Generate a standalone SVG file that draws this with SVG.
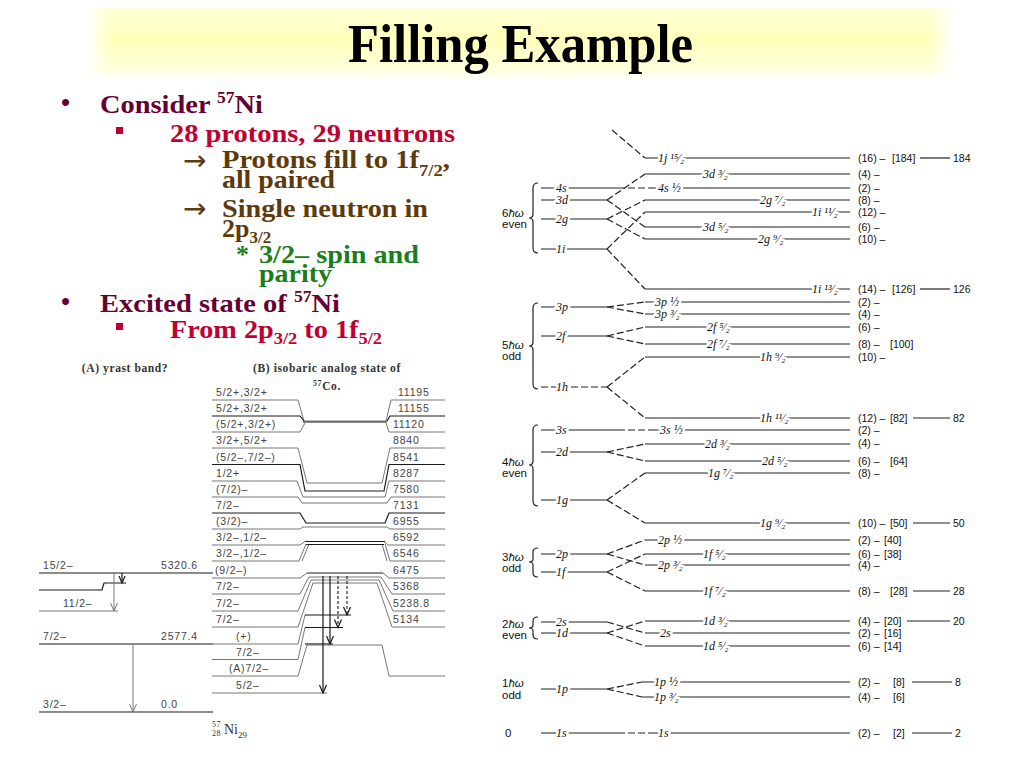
<svg xmlns="http://www.w3.org/2000/svg" width="1024" height="768" viewBox="0 0 1024 768">
<defs>
<linearGradient id="bandV" x1="0" y1="0" x2="0" y2="1">
<stop offset="0" stop-color="#FFFFD6"/><stop offset="0.45" stop-color="#FFFFBC"/><stop offset="0.85" stop-color="#FFFFDC"/><stop offset="1" stop-color="#FFFFFF"/>
</linearGradient>
<linearGradient id="bandH" x1="0" y1="0" x2="1" y2="0">
<stop offset="0" stop-color="#000"/><stop offset="0.03" stop-color="#fff"/><stop offset="0.97" stop-color="#fff"/><stop offset="1" stop-color="#000"/>
</linearGradient>
<mask id="bandMask"><rect x="85" y="8" width="870" height="72" fill="url(#bandH)"/></mask>
<style>
.title{font-family:"Liberation Serif",serif;font-weight:bold;font-size:54px;fill:#000}
.bt{font-family:"Liberation Serif",serif;font-weight:bold;font-size:26px}
.ar{font-family:"DejaVu Sans",sans-serif;font-size:28px}
.c1{fill:#660033}.c2{fill:#C00030}.c3{fill:#5C3A0B}.c4{fill:#1B7D1B}
.hd{font-family:"Liberation Serif",serif;font-weight:bold;font-size:11.5px;fill:#333;letter-spacing:0.6px}
.lb{font-family:"Liberation Sans",sans-serif;font-size:10.5px;fill:#444;letter-spacing:0.8px}
.g{stroke:#777;stroke-width:1;fill:none}
.k{stroke:#1a1a1a;stroke-width:1.2;fill:none}
.kd{stroke:#1a1a1a;stroke-width:1.1;fill:none;stroke-dasharray:3 2}
.ln{stroke:#222;stroke-width:1.2;fill:none}
.dl{stroke:#222;stroke-width:1.2;fill:none;stroke-dasharray:7 3}
.sl{font-family:"Liberation Serif",serif;font-style:italic;font-size:12px;fill:#111}
.halo{paint-order:stroke;stroke:#fff;stroke-width:5px;stroke-linejoin:round}
.sn{font-family:"Liberation Sans",sans-serif;font-size:10.5px;fill:#111}
.hw{font-family:"Liberation Sans",sans-serif;font-size:11.5px;fill:#111}
</style>
</defs>
<rect width="1024" height="768" fill="#fff"/>

<g id="title">
<rect x="85" y="8" width="870" height="72" fill="url(#bandV)" mask="url(#bandMask)"/>
<text class="title" x="348" y="62" textLength="345" lengthAdjust="spacingAndGlyphs">Filling Example</text>
</g>

<g id="bullets">
<text class="bt c1" x="61" y="111" font-size="20">•</text>
<text class="bt c1" x="100" y="113" textLength="163" lengthAdjust="spacingAndGlyphs">Consider <tspan font-size="16" dy="-10">57</tspan><tspan dy="10">Ni</tspan></text>
<rect x="116" y="127" width="7" height="7" fill="#C00030"/>
<text class="bt c2" x="170" y="142" textLength="285" lengthAdjust="spacingAndGlyphs">28 protons, 29 neutrons</text>
<text class="ar c3" x="183" y="170">→</text>
<text class="bt c3" x="222" y="168" textLength="228" lengthAdjust="spacingAndGlyphs">Protons fill to 1f<tspan font-size="17" dy="8">7/2</tspan><tspan dy="-8">,</tspan></text>
<text class="bt c3" x="222" y="188" textLength="113" lengthAdjust="spacingAndGlyphs">all paired</text>
<text class="ar c3" x="183" y="218">→</text>
<text class="bt c3" x="222" y="217" textLength="206" lengthAdjust="spacingAndGlyphs">Single neutron in</text>
<text class="bt c3" x="222" y="237">2p<tspan font-size="17" dy="6">3/2</tspan></text>
<text class="bt c4" x="236" y="263">*</text>
<text class="bt c4" x="259" y="263" textLength="160" lengthAdjust="spacingAndGlyphs">3/2– spin and</text>
<text class="bt c4" x="259" y="282" textLength="73" lengthAdjust="spacingAndGlyphs">parity</text>
<text class="bt c1" x="61" y="310" font-size="20">•</text>
<text class="bt c1" x="100" y="312" textLength="240" lengthAdjust="spacingAndGlyphs">Excited state of <tspan font-size="16" dy="-10">57</tspan><tspan dy="10">Ni</tspan></text>
<rect x="116" y="323" width="7" height="7" fill="#C00030"/>
<text class="bt c2" x="170" y="338" textLength="212" lengthAdjust="spacingAndGlyphs">From 2p<tspan font-size="17" dy="6">3/2</tspan><tspan dy="-6"> to 1f</tspan><tspan font-size="17" dy="6">5/2</tspan></text>
</g>

<g id="yrast">
<text class="hd" x="125" y="372" text-anchor="middle">(A) yrast band?</text>
<line class="k" x1="39" y1="573" x2="213" y2="573"/>
<polyline class="k" points="39,590 102,590 104,583 126,583"/>
<line class="g" x1="39" y1="611" x2="118" y2="611"/>
<line class="k" x1="39" y1="644" x2="213" y2="644"/>
<line class="k" x1="39" y1="712" x2="213" y2="712" stroke-width="2"/>
<text class="lb" x="43" y="569">15/2–</text>
<text class="lb" x="161" y="569">5320.6</text>
<text class="lb" x="63" y="607">11/2–</text>
<text class="lb" x="43" y="640">7/2–</text>
<text class="lb" x="161" y="640">2577.4</text>
<text class="lb" x="43" y="708">3/2–</text>
<text class="lb" x="161" y="708">0.0</text>
<line class="g" x1="114" y1="573" x2="114" y2="611"/><path class="g" d="M110.5,603 L114,611 L117.5,603"/>
<line class="k" x1="122" y1="573" x2="122" y2="583" stroke-width="1"/><path class="k" stroke-width="1" d="M119,576 L122,583 L125,576"/>
<line class="g" x1="133" y1="644" x2="133" y2="712"/><path class="g" d="M129.5,704 L133,712 L136.5,704"/>
</g>

<g id="analog">
<text class="hd" x="327" y="372" text-anchor="middle">(B) isobaric analog state of</text>
<text class="hd" x="313" y="390"><tspan font-size="8" dy="-4">57</tspan><tspan dy="4">Co.</tspan></text>
<polyline class="g" points="212,400 298,400 304,421 386,421 391,400 445,400"/>
<polyline class="k" points="212,416 300,416 304,421"/><polyline class="k" points="387,421 390,416 445,416"/>
<polyline class="g" points="212,432 300,432 305,423"/><polyline class="g" points="386,423 389,432 445,432"/>
<line class="k" x1="303" y1="422" x2="387" y2="422" stroke-width="2.6"/>
<polyline class="g" points="212,448 298,448 307,483 382,483 390,448 445,448"/>
<polyline class="k" points="212,464.5 300,464.5 305,491 384,491 389,464.5 445,464.5"/>
<polyline class="g" points="212,481 297,481 303,497 385,497 389,481 445,481"/>
<polyline class="g" points="212,497 298,497 302,503 387,503 391,497 445,497"/>
<polyline class="k" points="212,513 300,513 306,523 385,523 389,513 445,513"/>
<polyline class="g" points="212,529 300,529 303,527 387,527 390,529 445,529"/>
<polyline class="g" points="212,545 300,545 305,541.5"/><polyline class="g" points="384,541.5 388,545 445,545"/>
<polyline class="g" points="212,561 299,561 306,544"/><polyline class="g" points="302,561 309,544"/>
<polyline class="g" points="385,544 390,561 445,561"/><polyline class="g" points="382,544 387,561"/>
<line class="k" x1="305" y1="541.5" x2="385" y2="541.5" stroke-width="1.6"/>
<line class="k" x1="306" y1="544.5" x2="384" y2="544.5" stroke-width="1.6"/>
<polyline class="g" points="212,578 300,578 307,573"/><polyline class="g" points="383,573 389,578 445,578"/>
<line class="k" x1="307" y1="573" x2="383" y2="573" stroke-width="1.4"/>
<polyline class="g" points="212,594 300,594 309,577 381,577 392,594 445,594"/>
<polyline class="g" points="212,611 298,611 311,580 379,580 393,611 445,611"/>
<polyline class="g" points="212,627 298,627 313,583 377,583 392,627 445,627"/>
<polyline class="g" points="213,644 298,644 305,615"/>
<line class="k" x1="305" y1="615" x2="351" y2="615"/>
<line class="k" x1="305" y1="644" x2="333" y2="644"/>
<polyline class="g" points="212,659.5 298,659.5 305,627.5"/>
<line class="k" x1="305" y1="627.5" x2="343" y2="627.5"/>
<polyline class="g" points="212,676 298,676 307,645 382,645 389,676 445,676"/>
<line class="g" x1="212" y1="693" x2="327" y2="693"/>
<line class="k" x1="323" y1="576" x2="323" y2="693" stroke-width="1"/><path class="k" stroke-width="1" d="M319.5,685 L323,693 L326.5,685"/>
<line class="k" x1="330" y1="576" x2="330" y2="644" stroke-width="1"/><path class="k" stroke-width="1" d="M326.5,636 L330,644 L333.5,636"/>
<line class="kd" x1="338" y1="576" x2="338" y2="627.5"/><path class="k" stroke-width="1" d="M334.5,619.5 L338,627.5 L341.5,619.5"/>
<line class="kd" x1="347" y1="576" x2="347" y2="615"/><path class="k" stroke-width="1" d="M343.5,607 L347,615 L350.5,607"/>
<text class="lb" x="216" y="396">5/2+,3/2+</text>
<text class="lb" x="216" y="412">5/2+,3/2+</text>
<text class="lb" x="216" y="428">(5/2+,3/2+)</text>
<text class="lb" x="216" y="444">3/2+,5/2+</text>
<text class="lb" x="216" y="460.5">(5/2–,7/2–)</text>
<text class="lb" x="216" y="477">1/2+</text>
<text class="lb" x="216" y="493">(7/2)–</text>
<text class="lb" x="216" y="509">7/2–</text>
<text class="lb" x="216" y="525">(3/2)–</text>
<text class="lb" x="216" y="541">3/2–,1/2–</text>
<text class="lb" x="216" y="557">3/2–,1/2–</text>
<text class="lb" x="215" y="574">(9/2–)</text>
<text class="lb" x="216" y="590">7/2–</text>
<text class="lb" x="216" y="607">7/2–</text>
<text class="lb" x="216" y="623">7/2–</text>
<text class="lb" x="236" y="640">(+)</text>
<text class="lb" x="236" y="655.5">7/2–</text>
<text class="lb" x="229" y="672">(A)7/2–</text>
<text class="lb" x="236" y="689">5/2–</text>
<text class="lb" x="398" y="396">11195</text>
<text class="lb" x="398" y="412">11155</text>
<text class="lb" x="393" y="428">11120</text>
<text class="lb" x="393" y="444">8840</text>
<text class="lb" x="393" y="460.5">8541</text>
<text class="lb" x="393" y="477">8287</text>
<text class="lb" x="393" y="493">7580</text>
<text class="lb" x="393" y="509">7131</text>
<text class="lb" x="393" y="525">6955</text>
<text class="lb" x="393" y="541">6592</text>
<text class="lb" x="393" y="557">6546</text>
<text class="lb" x="393" y="574">6475</text>
<text class="lb" x="393" y="590">5368</text>
<text class="lb" x="393" y="607">5238.8</text>
<text class="lb" x="393" y="623">5134</text>
<text font-family="Liberation Serif, serif" fill="#333" font-size="8" x="212" y="727" letter-spacing="0.5">57</text>
<text font-family="Liberation Serif, serif" fill="#333" font-size="8" x="212" y="736" letter-spacing="0.5">28</text>
<text font-family="Liberation Serif, serif" fill="#333" font-size="14" x="224" y="734">Ni<tspan font-size="9" dy="4">29</tspan></text>
</g>

<g id="shell">
<g id="braces">
<path class="ln" d="M538,183 Q533,183 533,188 L533,214 Q533,218 529,218 Q533,218 533,222 L533,248 Q533,253 538,253"/>
<path class="ln" d="M538,303 Q533,303 533,308 L533,342 Q533,346 529,346 Q533,346 533,350 L533,384 Q533,389 538,389"/>
<path class="ln" d="M538,425 Q533,425 533,430 L533,461 Q533,465 529,465 Q533,465 533,469 L533,501 Q533,506 538,506"/>
<path class="ln" d="M538,548 Q533,548 533,552 L533,559 Q533,562 529,562 Q533,562 533,565 L533,573 Q533,577 538,577"/>
<path class="ln" d="M538,617 Q533,617 533,621 L533,625 Q533,628 529,628 Q533,628 533,631 L533,635 Q533,639 538,639"/>
</g>
<g id="osc-labels">
<text class="hw" x="502" y="217">6<tspan font-style="italic">ħω</tspan></text><text class="hw" x="502" y="228">even</text>
<text class="hw" x="502" y="349">5<tspan font-style="italic">ħω</tspan></text><text class="hw" x="502" y="360">odd</text>
<text class="hw" x="502" y="466">4<tspan font-style="italic">ħω</tspan></text><text class="hw" x="502" y="477">even</text>
<text class="hw" x="502" y="561">3<tspan font-style="italic">ħω</tspan></text><text class="hw" x="502" y="572">odd</text>
<text class="hw" x="502" y="628">2<tspan font-style="italic">ħω</tspan></text><text class="hw" x="502" y="639">even</text>
<text class="hw" x="502" y="687">1<tspan font-style="italic">ħω</tspan></text><text class="hw" x="502" y="699">odd</text>
<text class="hw" x="505" y="737">0</text>
</g>
<g id="connectors">
<line class="dl" x1="612" y1="130" x2="645" y2="158"/>
<line class="ln" x1="645" y1="158" x2="850" y2="158"/>
<line class="ln" x1="541" y1="188" x2="618" y2="188"/><line class="dl" x1="618" y1="188" x2="652" y2="188"/><line class="ln" x1="652" y1="188" x2="850" y2="188"/>
<line class="ln" x1="541" y1="200" x2="607" y2="200"/>
<line class="dl" x1="607" y1="200" x2="645" y2="174"/><line class="ln" x1="645" y1="174" x2="850" y2="174"/>
<line class="dl" x1="607" y1="200" x2="645" y2="227"/><line class="ln" x1="645" y1="227" x2="850" y2="227"/>
<line class="ln" x1="541" y1="219" x2="607" y2="219"/>
<line class="dl" x1="607" y1="219" x2="645" y2="200"/><line class="ln" x1="645" y1="200" x2="850" y2="200"/>
<line class="dl" x1="607" y1="219" x2="645" y2="239"/><line class="ln" x1="645" y1="239" x2="850" y2="239"/>
<line class="ln" x1="541" y1="249" x2="607" y2="249"/>
<line class="dl" x1="607" y1="249" x2="645" y2="212"/><line class="ln" x1="645" y1="212" x2="850" y2="212"/>
<line class="dl" x1="607" y1="249" x2="645" y2="289"/><line class="ln" x1="645" y1="289" x2="850" y2="289"/>

<line class="ln" x1="541" y1="307" x2="607" y2="307"/>
<line class="dl" x1="607" y1="307" x2="645" y2="302"/><line class="ln" x1="645" y1="302" x2="850" y2="302"/>
<line class="dl" x1="607" y1="307" x2="645" y2="314"/><line class="ln" x1="645" y1="314" x2="850" y2="314"/>
<line class="ln" x1="541" y1="336" x2="607" y2="336"/>
<line class="dl" x1="607" y1="336" x2="645" y2="327"/><line class="ln" x1="645" y1="327" x2="850" y2="327"/>
<line class="dl" x1="607" y1="336" x2="645" y2="344"/><line class="ln" x1="645" y1="344" x2="850" y2="344"/>
<line class="dl" x1="541" y1="387" x2="607" y2="387"/>
<line class="dl" x1="607" y1="387" x2="645" y2="357"/><line class="ln" x1="645" y1="357" x2="850" y2="357"/>
<line class="dl" x1="607" y1="387" x2="645" y2="418"/><line class="ln" x1="645" y1="418" x2="850" y2="418"/>

<line class="ln" x1="541" y1="430" x2="618" y2="430"/><line class="dl" x1="618" y1="430" x2="652" y2="430"/><line class="ln" x1="652" y1="430" x2="850" y2="430"/>
<line class="ln" x1="541" y1="452" x2="607" y2="452"/>
<line class="dl" x1="607" y1="452" x2="645" y2="444"/><line class="ln" x1="645" y1="444" x2="850" y2="444"/>
<line class="dl" x1="607" y1="452" x2="645" y2="461"/><line class="ln" x1="645" y1="461" x2="850" y2="461"/>
<line class="ln" x1="541" y1="500" x2="607" y2="500"/>
<line class="dl" x1="607" y1="500" x2="645" y2="473"/><line class="ln" x1="645" y1="473" x2="850" y2="473"/>
<line class="dl" x1="607" y1="500" x2="645" y2="523"/><line class="ln" x1="645" y1="523" x2="850" y2="523"/>

<line class="ln" x1="541" y1="554" x2="607" y2="554"/>
<line class="dl" x1="607" y1="554" x2="645" y2="540"/><line class="ln" x1="645" y1="540" x2="850" y2="540"/>
<line class="dl" x1="607" y1="554" x2="645" y2="565"/><line class="ln" x1="645" y1="565" x2="850" y2="565"/>
<line class="ln" x1="541" y1="572" x2="607" y2="572"/>
<line class="dl" x1="607" y1="572" x2="645" y2="554"/><line class="ln" x1="645" y1="554" x2="850" y2="554"/>
<line class="dl" x1="607" y1="572" x2="645" y2="591"/><line class="ln" x1="645" y1="591" x2="850" y2="591"/>

<line class="ln" x1="541" y1="622" x2="607" y2="622"/>
<line class="dl" x1="607" y1="622" x2="645" y2="633"/><line class="ln" x1="645" y1="633" x2="850" y2="633"/>
<line class="ln" x1="541" y1="633" x2="607" y2="633"/>
<line class="dl" x1="607" y1="633" x2="645" y2="621"/><line class="ln" x1="645" y1="621" x2="850" y2="621"/>
<line class="dl" x1="607" y1="633" x2="645" y2="646"/><line class="ln" x1="645" y1="646" x2="850" y2="646"/>

<line class="ln" x1="541" y1="689" x2="607" y2="689"/>
<line class="dl" x1="607" y1="689" x2="642" y2="682"/><line class="ln" x1="642" y1="682" x2="850" y2="682"/>
<line class="dl" x1="607" y1="689" x2="642" y2="697"/><line class="ln" x1="642" y1="697" x2="850" y2="697"/>

<line class="ln" x1="541" y1="733" x2="618" y2="733"/><line class="dl" x1="618" y1="733" x2="652" y2="733"/><line class="ln" x1="652" y1="733" x2="850" y2="733"/>

<line class="ln" x1="920" y1="158" x2="950" y2="158"/>
<line class="ln" x1="920" y1="289" x2="950" y2="289"/>
<line class="ln" x1="913" y1="418" x2="950" y2="418"/>
<line class="ln" x1="913" y1="523" x2="950" y2="523"/>
<line class="ln" x1="913" y1="591" x2="950" y2="591"/>
<line class="ln" x1="907" y1="621" x2="950" y2="621"/>
<line class="ln" x1="912" y1="682" x2="952" y2="682"/>
<line class="ln" x1="912" y1="733" x2="952" y2="733"/>
</g>
<g id="level-labels">
<text class="sl halo" x="556" y="192">4s</text>
<text class="sl halo" x="556" y="204">3d</text>
<text class="sl halo" x="556" y="223">2g</text>
<text class="sl halo" x="556" y="253">1i</text>
<text class="sl halo" x="556" y="311">3p</text>
<text class="sl halo" x="556" y="340">2f</text>
<text class="sl halo" x="556" y="391">1h</text>
<text class="sl halo" x="556" y="434">3s</text>
<text class="sl halo" x="556" y="456">2d</text>
<text class="sl halo" x="556" y="504">1g</text>
<text class="sl halo" x="556" y="558">2p</text>
<text class="sl halo" x="556" y="576">1f</text>
<text class="sl halo" x="556" y="626">2s</text>
<text class="sl halo" x="556" y="637">1d</text>
<text class="sl halo" x="556" y="693">1p</text>
<text class="sl halo" x="556" y="737">1s</text>

<text class="sl halo" x="658" y="162">1j ¹⁵⁄₂</text>
<text class="sl halo" x="703" y="178">3d ³⁄₂</text>
<text class="sl halo" x="658" y="192">4s ½</text>
<text class="sl halo" x="760" y="204">2g ⁷⁄₂</text>
<text class="sl halo" x="812" y="216">1i ¹¹⁄₂</text>
<text class="sl halo" x="703" y="231">3d ⁵⁄₂</text>
<text class="sl halo" x="758" y="243">2g ⁹⁄₂</text>
<text class="sl halo" x="812" y="293">1i ¹³⁄₂</text>
<text class="sl halo" x="655" y="306">3p ½</text>
<text class="sl halo" x="655" y="318">3p ³⁄₂</text>
<text class="sl halo" x="707" y="331">2f ⁵⁄₂</text>
<text class="sl halo" x="707" y="348">2f ⁷⁄₂</text>
<text class="sl halo" x="760" y="361">1h ⁹⁄₂</text>
<text class="sl halo" x="760" y="422">1h ¹¹⁄₂</text>
<text class="sl halo" x="660" y="434">3s ½</text>
<text class="sl halo" x="705" y="448">2d ³⁄₂</text>
<text class="sl halo" x="762" y="465">2d ⁵⁄₂</text>
<text class="sl halo" x="708" y="477">1g ⁷⁄₂</text>
<text class="sl halo" x="760" y="527">1g ⁹⁄₂</text>
<text class="sl halo" x="658" y="544">2p ½</text>
<text class="sl halo" x="703" y="558">1f ⁵⁄₂</text>
<text class="sl halo" x="658" y="569">2p ³⁄₂</text>
<text class="sl halo" x="703" y="595">1f ⁷⁄₂</text>
<text class="sl halo" x="703" y="625">1d ³⁄₂</text>
<text class="sl halo" x="660" y="637">2s</text>
<text class="sl halo" x="703" y="650">1d ⁵⁄₂</text>
<text class="sl halo" x="654" y="686">1p ½</text>
<text class="sl halo" x="654" y="701">1p ³⁄₂</text>
<text class="sl halo" x="658" y="737">1s</text>
</g>
<g id="occupancy">
<text class="sn" x="858" y="161.5">(16) –</text><text class="sn" x="892" y="161.5">[184]</text><text class="sn" x="953" y="161.5">184</text>
<text class="sn" x="858" y="177.5">(4) –</text>
<text class="sn" x="858" y="191.5">(2) –</text>
<text class="sn" x="858" y="203.5">(8) –</text>
<text class="sn" x="858" y="215.5">(12) –</text>
<text class="sn" x="858" y="230.5">(6) –</text>
<text class="sn" x="858" y="242.5">(10) –</text>
<text class="sn" x="858" y="292.5">(14) –</text><text class="sn" x="892" y="292.5">[126]</text><text class="sn" x="953" y="292.5">126</text>
<text class="sn" x="858" y="305.5">(2) –</text>
<text class="sn" x="858" y="317.5">(4) –</text>
<text class="sn" x="858" y="330.5">(6) –</text>
<text class="sn" x="858" y="347.5">(8) –</text><text class="sn" x="890" y="347.5">[100]</text>
<text class="sn" x="858" y="360.5">(10) –</text>
<text class="sn" x="858" y="421.5">(12) –</text><text class="sn" x="890" y="421.5">[82]</text><text class="sn" x="953" y="421.5">82</text>
<text class="sn" x="858" y="433.5">(2) –</text>
<text class="sn" x="858" y="446.5">(4) –</text>
<text class="sn" x="858" y="464.5">(6) –</text><text class="sn" x="890" y="464.5">[64]</text>
<text class="sn" x="858" y="476.5">(8) –</text>
<text class="sn" x="858" y="526.5">(10) –</text><text class="sn" x="890" y="526.5">[50]</text><text class="sn" x="953" y="526.5">50</text>
<text class="sn" x="858" y="543.5">(2) –</text><text class="sn" x="884" y="543.5">[40]</text>
<text class="sn" x="858" y="557.5">(6) –</text><text class="sn" x="884" y="557.5">[38]</text>
<text class="sn" x="858" y="568.5">(4) –</text>
<text class="sn" x="858" y="594.5">(8) –</text><text class="sn" x="890" y="594.5">[28]</text><text class="sn" x="953" y="594.5">28</text>
<text class="sn" x="858" y="624.5">(4) –</text><text class="sn" x="884" y="624.5">[20]</text><text class="sn" x="953" y="624.5">20</text>
<text class="sn" x="858" y="636.5">(2) –</text><text class="sn" x="884" y="636.5">[16]</text>
<text class="sn" x="858" y="649.5">(6) –</text><text class="sn" x="884" y="649.5">[14]</text>
<text class="sn" x="858" y="685.5">(2) –</text><text class="sn" x="893" y="685.5">[8]</text><text class="sn" x="955" y="685.5">8</text>
<text class="sn" x="858" y="700.5">(4) –</text><text class="sn" x="893" y="700.5">[6]</text>
<text class="sn" x="858" y="736.5">(2) –</text><text class="sn" x="893" y="736.5">[2]</text><text class="sn" x="955" y="736.5">2</text>
</g>
</g>
</svg>
